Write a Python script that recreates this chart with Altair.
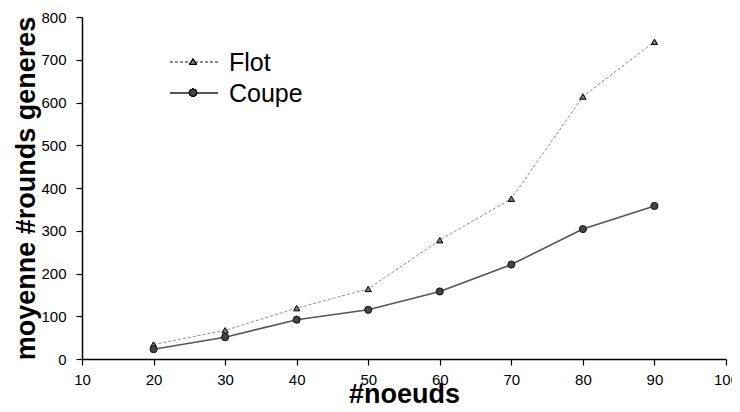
import altair as alt
import pandas as pd

noeuds = [20, 30, 40, 50, 60, 70, 80, 90]
flot = [34, 67, 119, 164, 278, 375, 614, 742]
coupe = [23, 51, 92, 115, 158, 221, 304, 358]
series_names = ["Flot", "Coupe"]

df = pd.DataFrame({
    "noeuds": noeuds * 2,
    "value": flot + coupe,
    "serie": [series_names[0]] * len(noeuds) + [series_names[1]] * len(noeuds),
})

FONT = "Liberation Sans"

x_enc = alt.X("noeuds:Q",
              scale=alt.Scale(domain=[10, 100], nice=False),
              axis=alt.Axis(values=list(range(10, 101, 10)), title="#noeuds",
                            titleBaseline="alphabetic", titleY=43, labelFlush=False))
y_enc = alt.Y("value:Q",
              scale=alt.Scale(domain=[0, 800], nice=False),
              axis=alt.Axis(values=list(range(0, 801, 100)), title="moyenne #rounds generes",
                            titleBaseline="alphabetic", titleX=-48, labelFlush=False))

base = alt.Chart(df)

TRI = dict(shape="triangle-up", size=40, filled=True, fill="#7a7a7a", stroke="black", strokeWidth=1, opacity=1)
CIR = dict(shape="circle", size=52, filled=True, fill="#444444", stroke="black", strokeWidth=0.8, opacity=1)
FLOT_LINE = dict(color="#8c8c8c", strokeWidth=1, strokeDash=[3, 2])
COUPE_LINE = dict(color="#555555", strokeWidth=1.6)

flot_line = base.transform_filter(alt.datum.serie == "Flot").mark_line(**FLOT_LINE).encode(x=x_enc, y=y_enc)
flot_pts = base.transform_filter(alt.datum.serie == "Flot").mark_point(**TRI).encode(x="noeuds:Q", y="value:Q")
coupe_line = base.transform_filter(alt.datum.serie == "Coupe").mark_line(**COUPE_LINE).encode(x="noeuds:Q", y="value:Q")
coupe_pts = base.transform_filter(alt.datum.serie == "Coupe").mark_point(**CIR).encode(x="noeuds:Q", y="value:Q")

# manual legend
leg = []
leg_y = [44.7, 75.7]
styles = [(FLOT_LINE, TRI), (COUPE_LINE, CIR)]
for name, yy, (ls, ps) in zip(series_names, leg_y, styles):
    leg.append(alt.Chart(df).mark_rule(**ls).encode(
        x=alt.value(88), x2=alt.value(136), y=alt.value(yy)))
    leg.append(alt.Chart(df).mark_point(**ps).encode(
        x=alt.value(111), y=alt.value(yy)))
    leg.append(alt.Chart(pd.DataFrame({"t": [name]})).mark_text(
        align="left", baseline="middle", font=FONT, fontSize=25, color="black"
    ).encode(x=alt.value(147), y=alt.value(yy + 1.5), text="t:N"))

chart = alt.layer(flot_line, coupe_line, flot_pts, coupe_pts, *leg).properties(
    width=644, height=342,
    autosize=alt.AutoSizeParams(type="none"),
    padding={"left": 74, "top": 9, "right": 6, "bottom": 45},
).configure_view(stroke=None).configure_axis(
    domainColor="black", domainWidth=1.5, tickColor="black", tickWidth=1.2, tickSize=6,
    labelFont=FONT, labelFontSize=15, labelColor="black", grid=False,
    titleFont=FONT, titleFontSize=27, titleFontWeight="bold", titleColor="black",
).configure_axisX(labelPadding=7).configure_axisY(labelPadding=10)

chart.save("out.html", embed_options={"renderer": "svg", "actions": False})
